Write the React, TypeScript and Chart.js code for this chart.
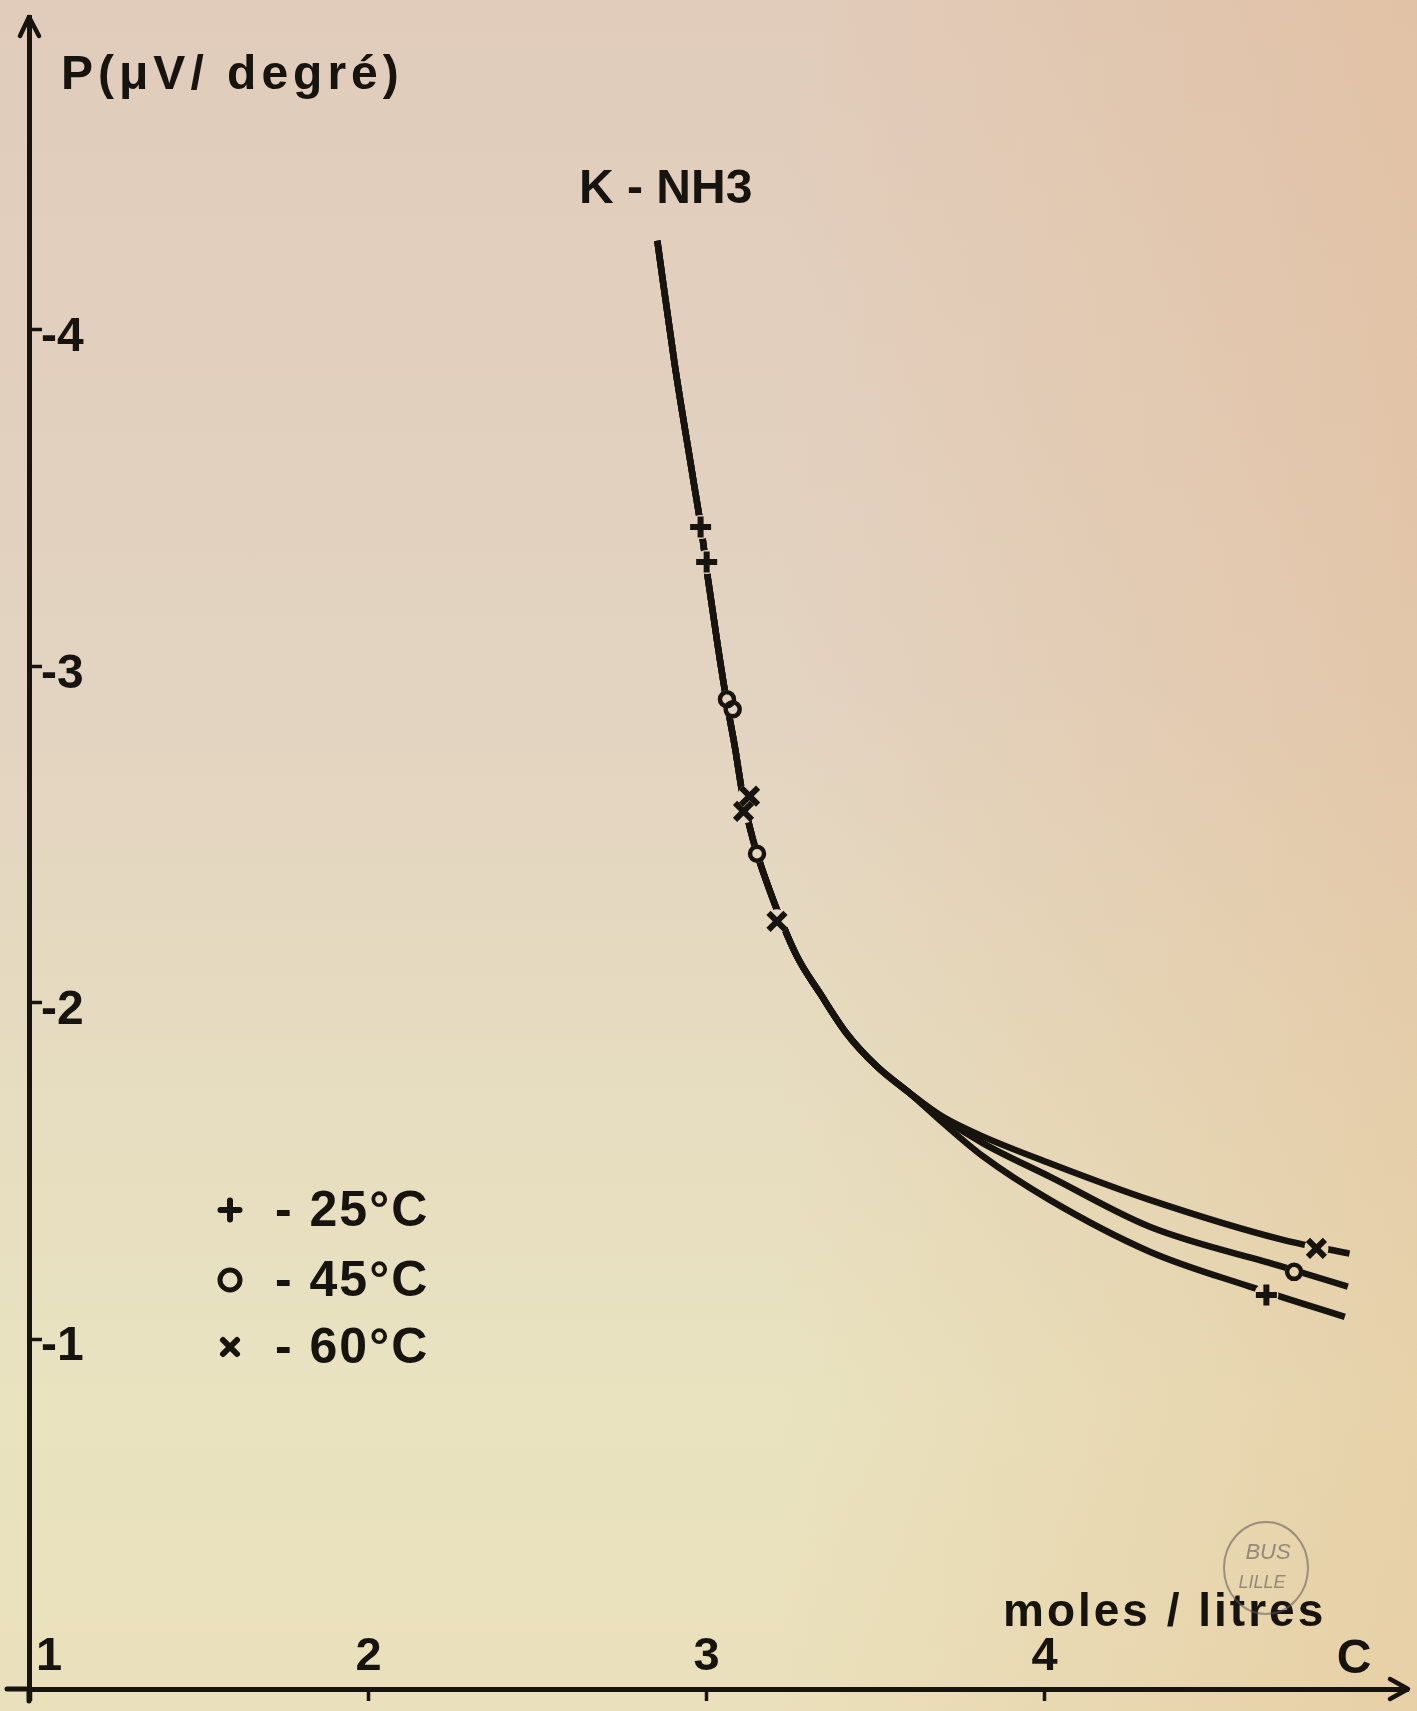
import React, { useEffect, useRef } from 'react';
import { Chart, registerables } from 'chart.js';

Chart.register(...registerables);

// ---------- data (C in moles/litre, P in µV/degré) ----------
const trunkC = [2.854, 2.905, 2.960, 2.984, 3.004, 3.033, 3.060, 3.083, 3.107, 3.137, 3.177, 3.265, 3.334, 3.413, 3.502, 3.601];
const trunkP = [-4.265, -3.900, -3.557, -3.408, -3.259, -3.060, -2.890, -2.763, -2.614, -2.485, -2.360, -2.142, -2.030, -1.910, -1.812, -1.731];

const branch25C = [3.700, 3.818, 4.015, 4.311, 4.607, 4.888];
const branch25P = [-1.642, -1.543, -1.414, -1.260, -1.156, -1.066];
const branch45C = [3.700, 3.818, 4.015, 4.311, 4.705, 4.897];
const branch45P = [-1.656, -1.582, -1.483, -1.334, -1.215, -1.156];
const branch60C = [3.700, 3.818, 4.015, 4.311, 4.705, 4.902];
const branch60P = [-1.660, -1.602, -1.523, -1.414, -1.295, -1.254];

const mark25C = [2.982, 3.000, 4.656];
const mark25P = [-3.414, -3.310, -1.131];
const mark45C = [3.060, 3.077, 3.149, 4.738];
const mark45P = [-2.902, -2.872, -2.443, -1.200];
const mark60C = [3.127, 3.109, 3.208, 4.804];
const mark60P = [-2.614, -2.569, -2.242, -1.270];

const seriesLabels = ['- 25°C', '- 45°C', '- 60°C'];
const seriesStyles = ['cross', 'circle', 'crossRot'];

const xTicks = [1, 2, 3, 4];
const xTickLabels = ['\u2002 1', '2', '3', '4'];
const yTicks = [-4, -3, -2, -1];
const yTickLabels = ['-4', '-3', '-2', '-1'];

const xTitle = 'moles / litres';
const xEndLabel = 'C';
const yTitle = 'P(μV/ degré)';
const chartTitle = 'K - NH3';

const X_MIN = 0.995;
const X_MAX = 5.075;
const Y_MIN = -4.93;
const Y_MAX = 0.04;

// ---------- styling ----------
const INK = '#17140f';
const FONT = '"Liberation Sans", Arial, sans-serif';

const pts = (xs: number[], ys: number[]) => xs.map((v, i) => ({ x: v, y: ys[i] }));

function drawMarker(ctx: CanvasRenderingContext2D, style: string, x: number, y: number) {
  ctx.save();
  ctx.strokeStyle = INK;
  ctx.lineCap = 'round';
  ctx.beginPath();
  if (style === 'cross') {
    const r = 9.5;
    ctx.lineWidth = 6;
    ctx.moveTo(x - r, y); ctx.lineTo(x + r, y);
    ctx.moveTo(x, y - r); ctx.lineTo(x, y + r);
  } else if (style === 'circle') {
    ctx.lineWidth = 5;
    ctx.arc(x, y, 10, 0, Math.PI * 2);
  } else {
    const r = 7;
    ctx.lineWidth = 6;
    ctx.moveTo(x - r, y - r); ctx.lineTo(x + r, y + r);
    ctx.moveTo(x + r, y - r); ctx.lineTo(x - r, y + r);
  }
  ctx.stroke();
  ctx.restore();
}

const paperPlugin = {
  id: 'paperPlugin',
  beforeDatasetDraw(chart: any, args: any) {
    const ds = chart.data.datasets[args.index];
    if (ds.knockout) {
      chart.ctx.save();
      chart.ctx.globalCompositeOperation = 'destination-out';
    }
  },
  afterDatasetDraw(chart: any, args: any) {
    const ds = chart.data.datasets[args.index];
    if (ds.knockout) chart.ctx.restore();
  },
  afterDraw(chart: any) {
    const { ctx, chartArea: ca } = chart;
    ctx.save();
    ctx.strokeStyle = INK;
    ctx.fillStyle = INK;
    ctx.lineCap = 'round';
    ctx.lineJoin = 'round';

    // axis extensions and arrows
    ctx.lineWidth = 5;
    ctx.beginPath();
    ctx.moveTo(ca.left - 22, ca.bottom); ctx.lineTo(ca.left, ca.bottom);
    ctx.moveTo(ca.left, ca.bottom); ctx.lineTo(ca.left, ca.bottom + 12);
    ctx.stroke();
    ctx.lineWidth = 4.5;
    ctx.beginPath();
    ctx.moveTo(ca.left - 9, ca.top + 19); ctx.lineTo(ca.left, ca.top); ctx.lineTo(ca.left + 10, ca.top + 19);
    ctx.moveTo(ca.right - 18, ca.bottom - 10); ctx.lineTo(ca.right, ca.bottom); ctx.lineTo(ca.right - 18, ca.bottom + 10);
    ctx.stroke();

    // texts
    ctx.textAlign = 'left';
    ctx.textBaseline = 'alphabetic';
    ctx.font = `bold 48px ${FONT}`;
    (ctx as any).letterSpacing = '5px';
    ctx.fillText(yTitle, 61, 89);

    ctx.font = `bold 48px ${FONT}`;
    (ctx as any).letterSpacing = '0px';
    ctx.fillText(chartTitle, 579, 203);

    ctx.font = `bold 46px ${FONT}`;
    (ctx as any).letterSpacing = '3px';
    ctx.fillText(xTitle, 1003, 1626);

    (ctx as any).letterSpacing = '0px';
    ctx.font = `bold 48px ${FONT}`;
    ctx.textAlign = 'center';
    ctx.textBaseline = 'middle';
    ctx.fillText(xEndLabel, 1354, 1660);

    // legend
    const rows = [1210, 1280, 1347];
    ctx.textAlign = 'left';
    ctx.font = `bold 50px ${FONT}`;
    (ctx as any).letterSpacing = '2px';
    seriesLabels.forEach((lab, i) => {
      drawMarker(ctx, seriesStyles[i], 230, rows[i]);
      ctx.fillText(lab, 275, rows[i] + 2);
    });

    // library stamp
    ctx.save();
    ctx.strokeStyle = 'rgba(95,85,85,0.55)';
    ctx.fillStyle = 'rgba(95,85,85,0.6)';
    ctx.lineWidth = 2;
    ctx.beginPath();
    ctx.ellipse(1266, 1568, 42, 46, 0, 0, Math.PI * 2);
    ctx.stroke();
    ctx.textAlign = 'center';
    ctx.font = `italic 22px ${FONT}`;
    (ctx as any).letterSpacing = '0px';
    ctx.fillText('BUS', 1268, 1553);
    ctx.font = `italic 18px ${FONT}`;
    ctx.fillText('LILLE', 1262, 1583);
    ctx.restore();

    ctx.restore();
  },
};

export default function App() {
  const canvasRef = useRef<HTMLCanvasElement | null>(null);

  useEffect(() => {
    if (!canvasRef.current) return;
    document.body.style.margin = '0';

    const branches = [
      [branch25C, branch25P],
      [branch45C, branch45P],
      [branch60C, branch60P],
    ];
    const marks = [
      [mark25C, mark25P],
      [mark45C, mark45P],
      [mark60C, mark60P],
    ];
    const radii = [10.5, 7, 12];

    const lineSets = seriesLabels.map((lab, i) => ({
      label: lab,
      data: pts(trunkC.concat(branches[i][0]), trunkP.concat(branches[i][1])),
      showLine: true,
      borderColor: INK,
      borderWidth: 6.5,
      pointRadius: 0,
      cubicInterpolationMode: 'monotone',
      order: 3,
    }));
    const knockSets = seriesLabels.map((lab, i) => ({
      label: lab + ' gap',
      knockout: true,
      data: pts(marks[i][0], marks[i][1]),
      showLine: false,
      pointStyle: 'circle',
      pointRadius: i === 1 ? 9 : 12,
      backgroundColor: '#000',
      borderWidth: 0,
      order: 2,
    }));
    const markSets = seriesLabels.map((lab, i) => ({
      label: lab + ' points',
      data: pts(marks[i][0], marks[i][1]),
      showLine: false,
      pointStyle: seriesStyles[i],
      pointRadius: radii[i],
      backgroundColor: 'rgba(0,0,0,0)',
      borderColor: INK,
      borderWidth: i === 1 ? 4.5 : 6,
      order: 1,
    }));

    const chart = new Chart(canvasRef.current, {
      type: 'scatter',
      data: { datasets: [...lineSets, ...knockSets, ...markSets] as any },
      options: {
        animation: false,
        responsive: false,
        devicePixelRatio: 1,
        events: [],
        layout: { autoPadding: false, padding: { left: 0, right: 9, top: 17, bottom: 0 } },
        plugins: { legend: { display: false }, tooltip: { enabled: false }, title: { display: false } },
        scales: {
          x: {
            type: 'linear',
            min: X_MIN,
            max: X_MAX,
            afterBuildTicks: (s: any) => { s.ticks = xTicks.map((v) => ({ value: v })); },
            afterFit: (s: any) => { s.height = 22; s.paddingLeft = 0; s.paddingRight = 0; s.paddingTop = 0; s.paddingBottom = 0; },
            border: { display: true, color: INK, width: 5 },
            grid: { display: true, drawOnChartArea: false, drawTicks: true, tickLength: 12, tickWidth: 3.5, tickColor: INK },
            ticks: {
              mirror: true,
              padding: 4,
              color: INK,
              font: { family: FONT, size: 47, weight: 'bold' },
              maxRotation: 0,
              autoSkip: false,
              callback: (v: any) => xTickLabels[xTicks.indexOf(Number(v))] ?? '',
            },
          },
          y: {
            type: 'linear',
            reverse: true,
            min: Y_MIN,
            max: Y_MAX,
            afterBuildTicks: (s: any) => { s.ticks = yTicks.map((v) => ({ value: v })); },
            afterFit: (s: any) => { s.width = 29; s.paddingLeft = 0; s.paddingRight = 0; s.paddingTop = 0; s.paddingBottom = 0; },
            border: { display: true, color: INK, width: 5 },
            grid: { display: true, drawOnChartArea: false, drawTicks: true, tickLength: -13, tickWidth: 3.5, tickColor: INK },
            ticks: {
              mirror: true,
              padding: 12,
              labelOffset: 8,
              color: INK,
              font: { family: FONT, size: 48, weight: 'bold' },
              autoSkip: false,
              callback: (v: any) => yTickLabels[yTicks.indexOf(Number(v))] ?? '',
            },
          },
        },
      } as any,
      plugins: [paperPlugin as any],
    });
    return () => chart.destroy();
  }, []);

  return (
    <div
      style={{
        position: 'absolute',
        left: 0,
        top: 0,
        width: 1417,
        height: 1711,
        background:
          'linear-gradient(to right, rgba(226,170,118,0) 0%, rgba(226,170,118,0) 55%, rgba(226,170,118,0.30) 100%), linear-gradient(to bottom, #e1ccbb 0%, #e3d3c1 40%, #e6dcc0 62%, #e9e3c0 82%, #eae0bb 100%)',
      }}
    >
      <canvas ref={canvasRef} width={1417} height={1711} style={{ display: 'block' }} />
    </div>
  );
}
